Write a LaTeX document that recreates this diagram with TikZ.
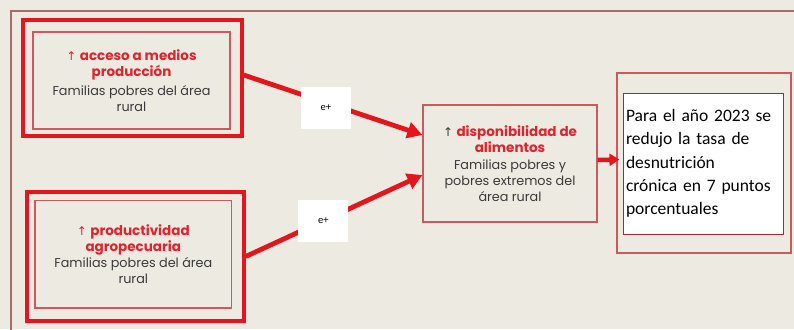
\documentclass[tikz,border=0pt]{standalone}
\usepackage{fontspec}
\setmainfont{Carlito}
\newfontfamily\comic{Poppins}
\newfontfamily\symb{DejaVu Sans}
\usetikzlibrary{arrows.meta}
\definecolor{bgc}{HTML}{EDEAE1}
\definecolor{thickred}{HTML}{E3161E}
\definecolor{titlered}{HTML}{E0242C}
\definecolor{thinred}{HTML}{C85A60}
\definecolor{darktxt}{HTML}{3A3A3A}
\definecolor{innerred}{HTML}{9E2A38}
\definecolor{framec}{HTML}{A86A6A}
\tikzset{
  thickbox/.style={draw=thickred, line width=4pt, inner sep=0pt},
  thinbox/.style={draw=thinred, line width=1.2pt, inner sep=0pt, align=center,
    font=\comic\fontsize{12.8}{16}\selectfont, text=darktxt},
  resbox/.style={draw=innerred, line width=1pt, fill=white, inner sep=0pt,
    align=left, font=\fontsize{17.5}{23.3}\selectfont, text=black},
  conn/.style={draw=thickred, line width=4.8pt, -{Triangle[length=15pt,width=16pt]}},
  smallconn/.style={draw=thickred, line width=4.5pt, -{Triangle[length=10pt,width=12pt]}},
  lab/.style={fill=white, minimum width=50pt, minimum height=42pt, inner sep=0pt,
    font=\fontsize{10.5}{12}\selectfont, text=black},
}
\newcommand{\ttl}[1]{{\color{titlered}\bfseries\fontsize{13.5}{17}\selectfont #1}}
\newcommand{\up}{{\symb\fontsize{12}{14}\selectfont ↑}}
\begin{document}
\begin{tikzpicture}[x=1pt,y=-1pt]
\useasboundingbox (0,0) rectangle (794,329);
\fill[bgc] (0,0) rectangle (794,329);
\draw[framec, line width=1.6pt] (11,340) -- (11,11) -- (810,11);
% box 1
\node[thickbox, minimum width=218.4pt, minimum height=116pt] (b1o) at (132.5,78) {};
\node[thinbox, minimum width=197pt, minimum height=97pt] (b1) at (131.5,80.5)
  {{\color{titlered}\up} \ttl{acceso a medios}\\ \ttl{producción}\\[3pt] Familias pobres del área\\ rural};
% box 2
\node[thickbox, minimum width=217pt, minimum height=129pt] (b2o) at (135.2,256.5) {};
\node[thinbox, minimum width=196.7pt, minimum height=107.3pt] (b2) at (133.3,254.3)
  {{\color{titlered}\up} \ttl{productividad}\\ \ttl{agropecuaria}\\ Familias pobres del área\\ rural};
% middle box
\node[thinbox, minimum width=174pt, minimum height=117pt] (mid) at (510,163.5)
  {\up\ \ttl{disponibilidad de}\\ \ttl{alimentos}\\[1pt] Familias pobres y\\ pobres extremos del\\ área rural};
% result box
\node[draw=thinred, line width=1.2pt, minimum width=174pt, minimum height=180pt, inner sep=0pt] (ro) at (704,163) {};
\node[resbox, minimum width=160pt, minimum height=141pt, text width=154pt] (ri) at (703,163.5)
  {Para el año 2023 se\\ redujo la tasa de\\ desnutrición\\ crónica en 7 puntos\\ porcentuales};
% connectors
\coordinate (s1) at ([yshift=3pt]b1o.east);
\coordinate (e1) at ([yshift=28.5pt]mid.west);
\coordinate (s2) at (b2o.east);
\coordinate (e2) at ([yshift=-11.5pt]mid.west);
\draw[conn] (s1) -- (e1) node[lab, pos=0.46, yshift=-5pt] (l1) {e+};
\draw[conn] (s2) -- (e2) node[lab, pos=0.44] (l2) {e+};
\draw[smallconn] ([yshift=3.5pt]mid.east) -- ([yshift=3.5pt,xshift=3pt]ro.west);
\end{tikzpicture}
\end{document}
